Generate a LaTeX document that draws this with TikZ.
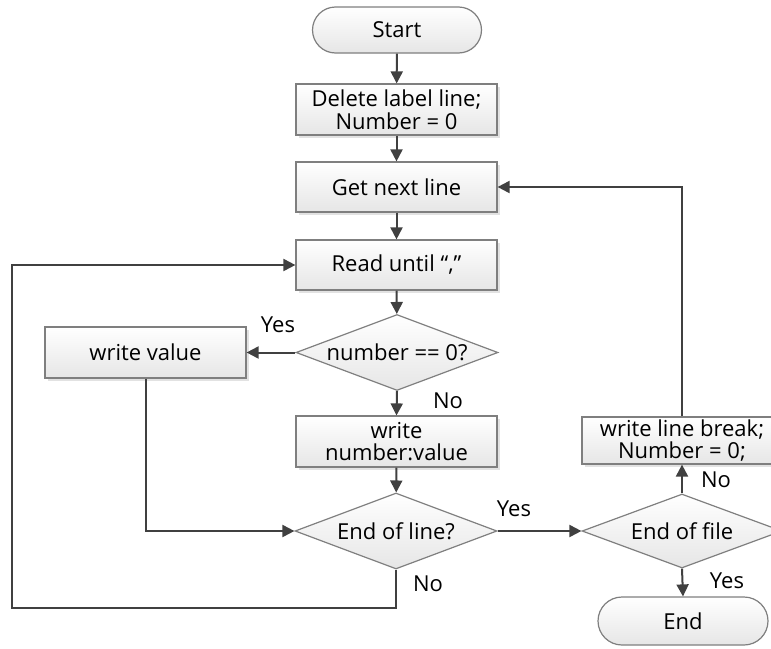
\documentclass[tikz,border=0pt]{standalone}
\usepackage{fontspec}
\setmainfont{Open Sans}
\usetikzlibrary{shapes.geometric,arrows.meta,shadows}
\definecolor{edgegray}{HTML}{7F7F7F}
\definecolor{linegray}{HTML}{404040}
\definecolor{shadowgray}{HTML}{E2E2E2}
\definecolor{fillbottom}{HTML}{E6E6E6}
\begin{document}
\begin{tikzpicture}[x=1pt,y=-1pt,
  shapebase/.style={draw=edgegray, line width=1.2pt, top color=white, bottom color=fillbottom,
    font=\fontsize{22}{22.6}\selectfont, text=black, align=center, inner sep=0pt},
  procbox/.style={shapebase, rectangle, minimum width=201pt, minimum height=51pt,
    drop shadow={shadow xshift=3pt, shadow yshift=-3pt, fill=shadowgray, opacity=1}},
  terminal/.style={shapebase, rectangle, rounded corners=23pt, minimum width=169pt, minimum height=46pt},
  decision/.style={shapebase, diamond, aspect=2.66, minimum width=202pt, minimum height=76pt},
  flow/.style={draw=linegray, line width=2pt, -{Triangle[length=12pt,width=12pt]}},
  tag/.style={font=\fontsize{22}{22}\selectfont, text=black, inner sep=0pt}
]
\useasboundingbox (0,0) rectangle (771,648);
\clip (0,0) rectangle (771,648);

% shapes
\node[terminal] (start) at (397,30) {Start};
\node[procbox] (init) at (396.5,109.5) {Delete label line;\\Number = 0};
\node[procbox, minimum height=50pt] (next) at (396.5,187) {Get next line};
\node[procbox, minimum height=50pt] (read) at (396.5,265) {Read until “,”};
\node[decision] (iszero) at (397,352.5) {number == 0?};
\node[procbox] (wval) at (145.5,352.5) {write value};
\node[procbox] (wnum) at (396.5,441.5) {write\\number:value};
\node[decision] (eol) at (396,531) {End of line?};
\node[decision, minimum width=200pt, minimum height=74pt] (eof) at (682,531) {End of file};
\node[procbox, minimum width=200pt, minimum height=47pt] (wbrk) at (682,440.5) {write line break;\\Number = 0;};
\node[terminal, minimum width=170pt, minimum height=48pt, rounded corners=24pt] (end) at (683,621) {End};

\coordinate (loopleft) at (12,608);

% connectors
\draw[flow] (start) -- (init);
\draw[flow] (init) -- (next);
\draw[flow] (next) -- (read);
\draw[flow] (read) -- (iszero);
\draw[flow] (iszero.west) -- (wval.east);
\draw[flow] (iszero.south) -- (wnum.north);
\draw[flow] (wnum) -- (eol);
\draw[flow] (wval.south) |- (eol.west);
\draw[flow] (eol.east) -- (eof.west);
\draw[flow] (eol.south) |- (loopleft) |- (read.west);
\draw[flow] (eof.north) -- (wbrk.south);
\draw[flow] (eof.south) -- (end.north);
\draw[flow] (wbrk.north) |- (next.east);

% branch labels
\node[tag] (yes1) at (278,325) {Yes};
\node[tag] (no1) at (448,401) {No};
\node[tag] (yes2) at (514,509) {Yes};
\node[tag] (no2) at (428,584) {No};
\node[tag] (no3) at (716,480) {No};
\node[tag] (yes3) at (727,581) {Yes};
\end{tikzpicture}
\end{document}
